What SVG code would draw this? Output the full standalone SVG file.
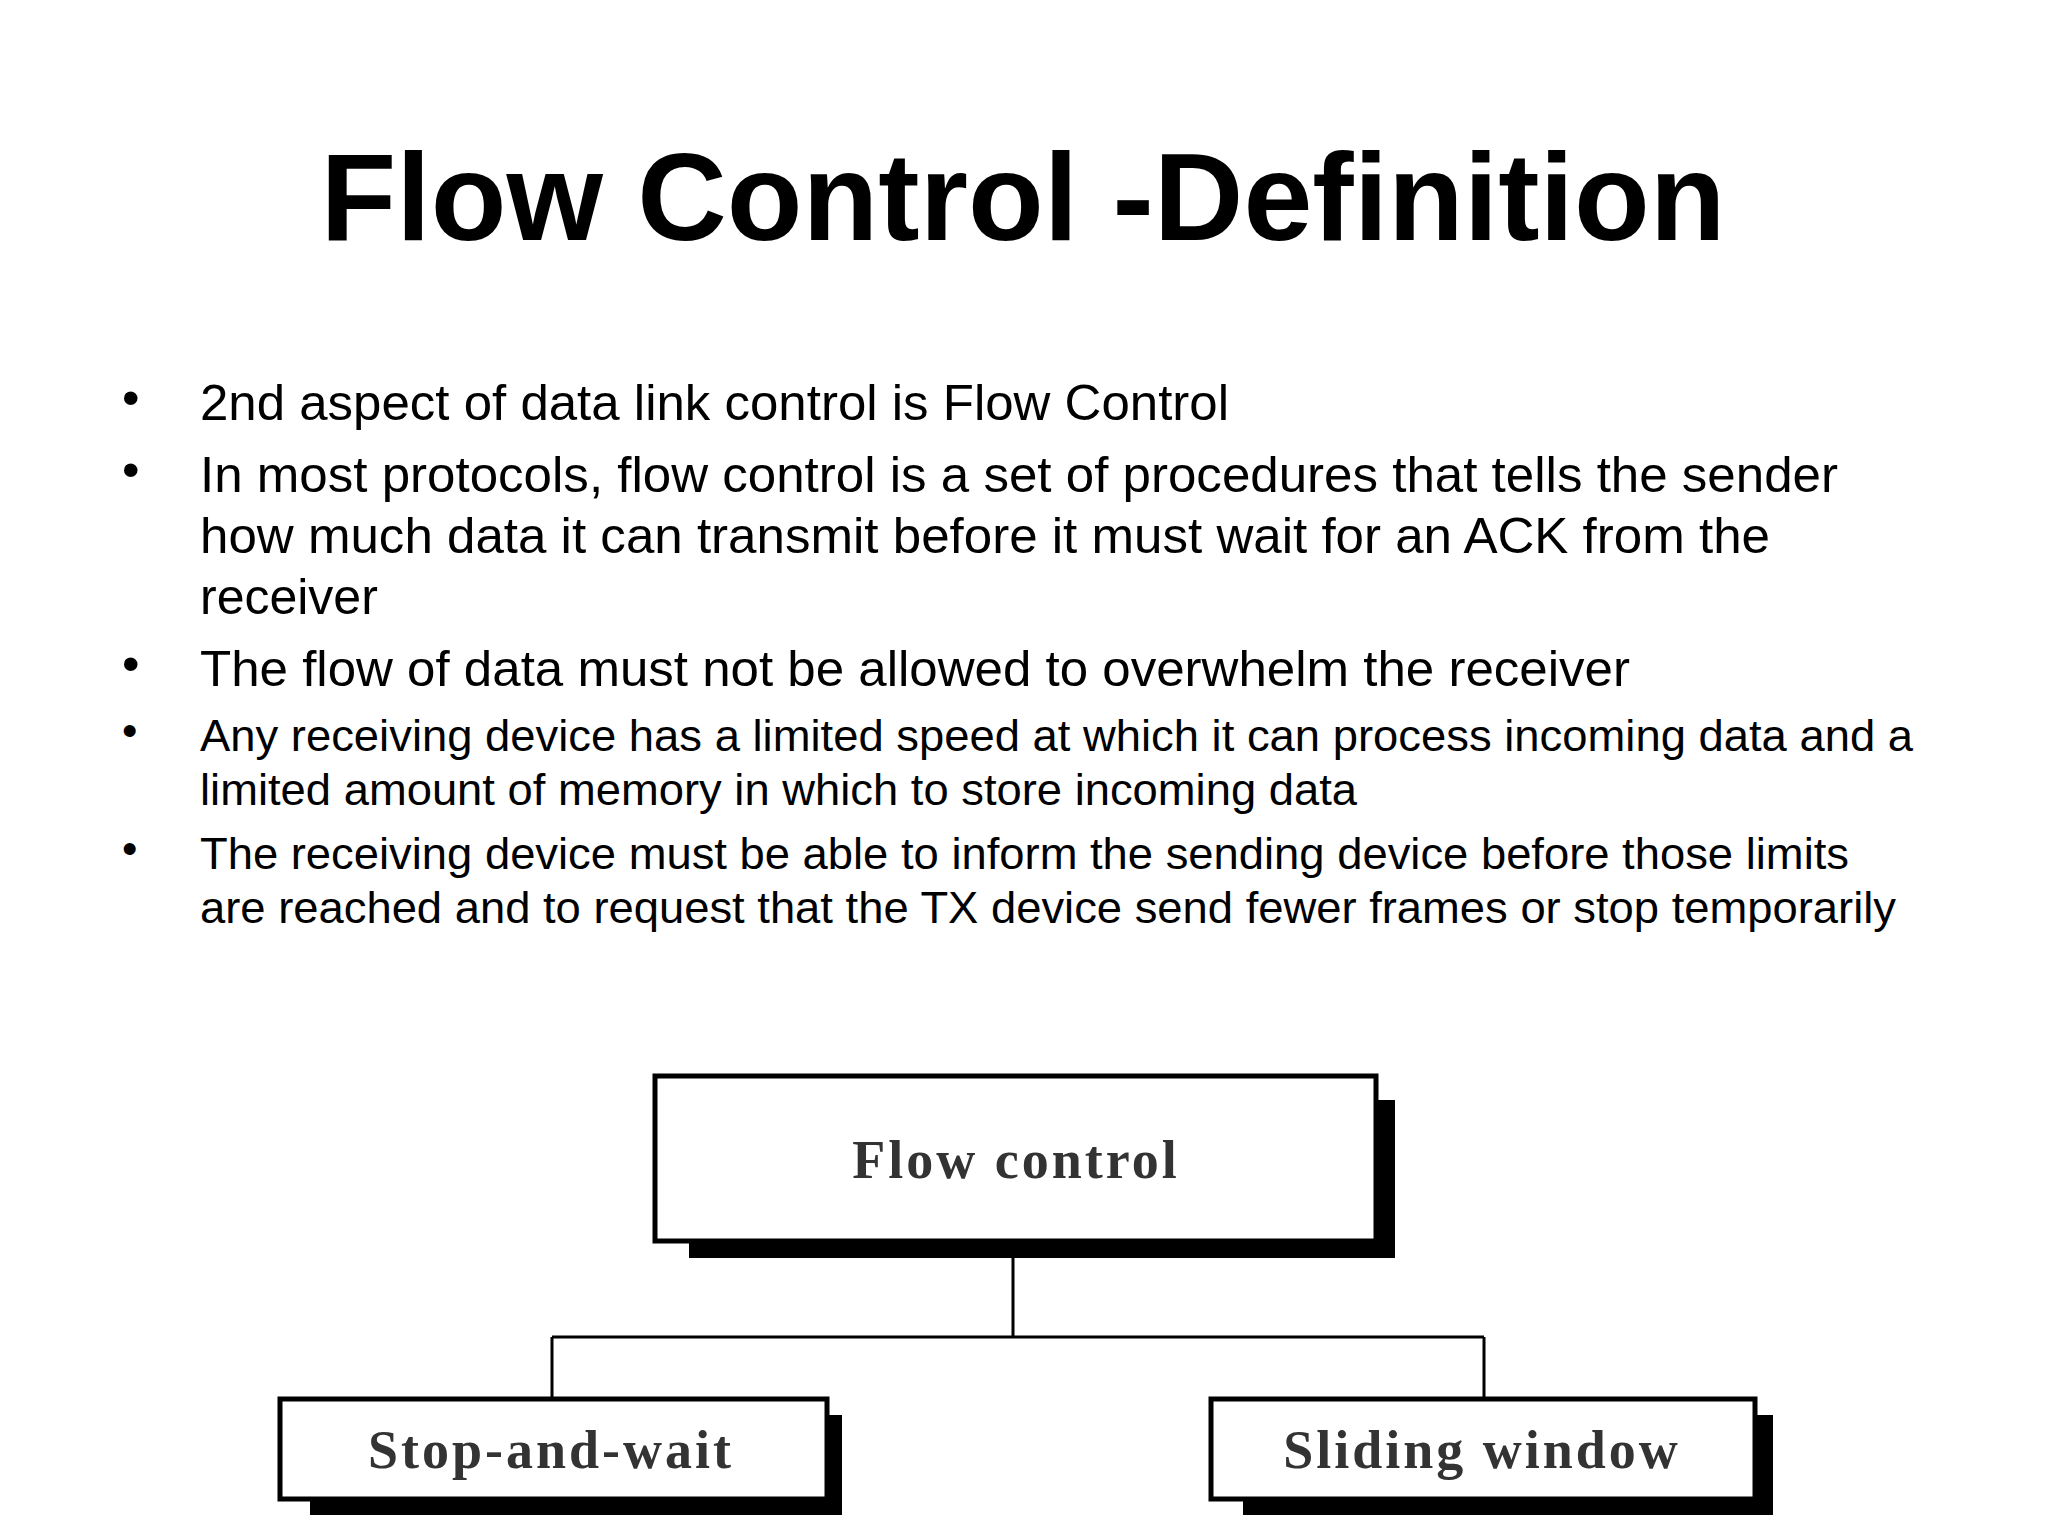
<svg xmlns="http://www.w3.org/2000/svg" width="2048" height="1536" viewBox="0 0 2048 1536">
<style>
.t{font-family:"Liberation Sans",Arial,sans-serif;fill:#000}
.b{font-family:"Liberation Sans",Arial,sans-serif;font-size:50px}
.s{font-family:"Liberation Sans",Arial,sans-serif;font-size:44px}
.box{fill:#fff;stroke:#000;stroke-width:5}
.sh{fill:#000}
.lbl{font-family:"Liberation Serif","Times New Roman",serif;font-size:54px;font-weight:bold;letter-spacing:3px;text-anchor:middle;fill:#333}
.ln{stroke:#000;stroke-width:3;fill:none}
</style>
<rect width="2048" height="1536" fill="#fff"/>
<text class="t" x="1023" y="240" font-size="124" font-weight="bold" text-anchor="middle">Flow Control -Definition</text>
<g class="b">
<text x="122" y="415">•</text><text x="200" y="420" textLength="1029" lengthAdjust="spacingAndGlyphs">2nd aspect of data link control is Flow Control</text>
<text x="122" y="487">•</text><text x="200" y="492" textLength="1638" lengthAdjust="spacingAndGlyphs">In most protocols, flow control is a set of procedures that tells the sender</text>
<text x="200" y="553" textLength="1570" lengthAdjust="spacingAndGlyphs">how much data it can transmit before it must wait for an ACK from the</text>
<text x="200" y="614">receiver</text>
<text x="122" y="681">•</text><text x="200" y="686" textLength="1430" lengthAdjust="spacingAndGlyphs">The flow of data must not be allowed to overwhelm the receiver</text>
</g>
<g class="s">
<text x="122" y="746">•</text><text x="200" y="751" textLength="1713" lengthAdjust="spacingAndGlyphs">Any receiving device has a limited speed at which it can process incoming data and a</text>
<text x="200" y="805" textLength="1157" lengthAdjust="spacingAndGlyphs">limited amount of memory in which to store incoming data</text>
<text x="122" y="864">•</text><text x="200" y="869" textLength="1649" lengthAdjust="spacingAndGlyphs">The receiving device must be able to inform the sending device before those limits</text>
<text x="200" y="923" textLength="1696" lengthAdjust="spacingAndGlyphs">are reached and to request that the TX device send fewer frames or stop temporarily</text>
</g>
<g id="connectors">
<path class="ln" d="M1013 1241V1337M552 1337H1484M552 1337V1397M1484 1337V1397"/>
</g>
<g id="flow-control">
<rect class="sh" x="689" y="1100" width="706" height="158"/>
<rect class="box" x="655" y="1076" width="721" height="165"/>
<text class="lbl" x="1016" y="1178">Flow control</text>
</g>
<g id="stop-and-wait">
<rect class="sh" x="310" y="1415" width="532" height="100"/>
<rect class="box" x="280" y="1399" width="547" height="100"/>
<text class="lbl" x="551" y="1468">Stop-and-wait</text>
</g>
<g id="sliding-window">
<rect class="sh" x="1243" y="1415" width="530" height="100"/>
<rect class="box" x="1211" y="1399" width="544" height="100"/>
<text class="lbl" x="1482" y="1468">Sliding window</text>
</g>
</svg>
